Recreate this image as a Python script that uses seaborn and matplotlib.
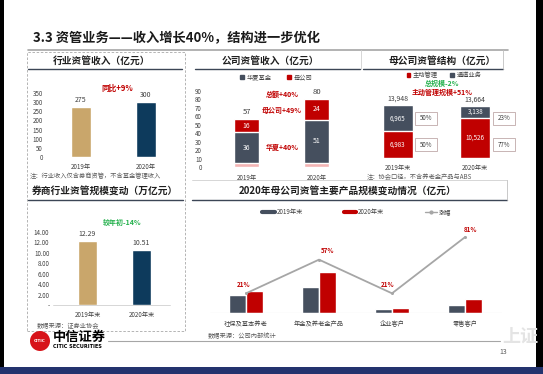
import numpy as np
import pandas as pd
import matplotlib
matplotlib.use('Agg')
import matplotlib.pyplot as plt
from matplotlib.lines import Line2D
from matplotlib.patches import Rectangle, Patch, Ellipse
from matplotlib.ticker import FuncFormatter
import seaborn as sns

# ---- data ----
years = ['2019年', '2020年']
industry_income = [275, 300]          # 行业资管收入 (亿元)

huaxia_income = [36, 51]              # 华夏基金
parent_income = [16, 24]              # 母公司
other_income = [5, 5]                 # 底部浅色部分

year_ends = ['2019年末', '2020年末']
active_mgmt = [6983, 10526]           # 主动管理
channel_biz = [6965, 3138]            # 通道业务
active_share = ['50%', '77%']
channel_share = ['50%', '23%']

industry_scale = [12.29, 10.51]       # 券商行业资管规模 (万亿元)

products = ['社保及基本养老', '年金及养老金产品', '企业客户', '零售客户']
prod_2019 = [1900, 2750, 420, 830]
prod_2020 = [2300, 4320, 510, 1500]
growth = [21, 57, 21, 81]

GOLD = '#c9a66b'
NAVY = '#0d3a5c'
SLATE = '#454f5e'
RED = '#c00000'
PINK = '#f3b4b4'
GREEN = '#22b04b'
LINE_GRAY = '#a6a6a6'
TXT = '#404040'
NOTE = '#595959'
TITLE_LINE = '#3c4656'

W, H = 543, 374

sns.set_style('white')
plt.rcParams['font.family'] = ['Noto Sans CJK SC', 'DejaVu Sans']
plt.rcParams['axes.unicode_minus'] = False

fig = plt.figure(figsize=(W / 100, H / 100), dpi=100)
fig.patch.set_facecolor('white')


def add_ax(x0, y0, x1, y1):
    # pixel box (top-left origin) -> figure axes
    return fig.add_axes([x0 / W, 1 - y1 / H, (x1 - x0) / W, (y1 - y0) / H])


def ftext(x, y, s, **kw):
    kw.setdefault('ha', 'center')
    kw.setdefault('va', 'center')
    return fig.text(x / W, 1 - y / H, s, **kw)


def fline(xs, ys, **kw):
    fig.add_artist(Line2D([x / W for x in xs], [1 - y / H for y in ys],
                          transform=fig.transFigure, **kw))


def frect(x0, y0, x1, y1, **kw):
    fig.add_artist(Rectangle((x0 / W, 1 - y1 / H), (x1 - x0) / W, (y1 - y0) / H,
                             transform=fig.transFigure, **kw))


def clean(ax):
    for s in ax.spines.values():
        s.set_visible(False)
    ax.set_xlabel('')
    ax.set_ylabel('')
    ax.set_facecolor('none')
    ax.tick_params(length=0, labelsize=4.5, labelcolor=TXT)


# ---- slide frame ----
frect(0, 0, 4, H, color='black', lw=0)
frect(536, 0, W, H, color='black', lw=0)
frect(0, 367, W, H, color='#23336e', lw=0)

ftext(33, 38, '3.3 资管业务——收入增长40%，结构进一步优化', ha='left',
      size=9.5, weight='bold', color='#1a1a1a')
fline([28, 508], [49.5, 49.5], color='#a6a6a6', lw=1.2)

# left dashed panel
frect(27, 52, 185, 331, fill=False, ls=(0, (3, 2)), ec='#a8a8a8', lw=0.6)

# panel titles
title_kw = dict(size=7, weight='bold', color='#1f1f1f')
ftext(102, 61, '行业资管收入（亿元）', **title_kw)
ftext(270, 61, '公司资管收入（亿元）', **title_kw)
ftext(442, 61, '母公司资管结构（亿元）', **title_kw)
ftext(105, 191, '券商行业资管规模变动（万亿元）', **title_kw)
ftext(348, 191, '2020年母公司资管主要产品规模变动情况（亿元）', **title_kw)

fline([28, 182], [68.5, 68.5], color=TITLE_LINE, lw=1)
fline([195, 360], [68.5, 68.5], color=TITLE_LINE, lw=1)
fline([363, 503], [68.5, 68.5], color=TITLE_LINE, lw=1)
fline([28, 183], [200, 200], color=TITLE_LINE, lw=1)
fline([192, 507], [200, 200], color=TITLE_LINE, lw=1)
fline([361, 361], [50, 68.5], color='#d0d0d0', lw=0.6)
fline([503, 503], [50, 68.5], color='#c0c0c0', lw=0.6)
fline([192, 507], [180, 180], color='#d0d0d0', lw=0.6)
fline([507, 507], [180, 200], color='#c0c0c0', lw=0.6)

# ---- chart 1: 行业资管收入 ----
ax1 = add_ax(48.5, 93, 178.5, 157)
sns.barplot(x=years, y=industry_income, hue=years, palette=[GOLD, NAVY],
            width=0.31, saturation=1, legend=False, ax=ax1)
clean(ax1)
ax1.set_xlim(-0.5, 1.5)
ax1.set_ylim(0, 350)
ax1.set_yticks(range(0, 351, 50))
ax1.tick_params(axis='both', pad=4)
ax1.axhline(0, color='#d9d9d9', lw=0.6)
for i, v in enumerate(industry_income):
    ax1.annotate(str(v), (i, v), xytext=(0, 2), textcoords='offset points',
                 ha='center', va='bottom', size=5, color=TXT)
ftext(117, 88, '同比+9%', size=5.5, weight='bold', color=RED)
ftext(30, 176, '注：行业收入仅含券商资管，不含基金管理收入', ha='left',
      size=4.5, color=NOTE)

# ---- chart 2: 公司资管收入 (stacked) ----
ax2 = add_ax(211.5, 90.7, 351.5, 167.3)
low = np.array(other_income)
mid = low + np.array(huaxia_income)
top = mid + np.array(parent_income)
sns.barplot(x=years, y=top, color=RED, width=0.36, saturation=1, ax=ax2)
sns.barplot(x=years, y=mid, color=SLATE, width=0.36, saturation=1, ax=ax2)
sns.barplot(x=years, y=low, color=PINK, width=0.36, saturation=1, ax=ax2)
clean(ax2)
ax2.set_xlim(-0.5, 1.5)
ax2.set_ylim(0, 90)
ax2.set_yticks(range(0, 91, 10))
ax2.tick_params(axis='y', pad=7)
ax2.tick_params(axis='x', pad=5)
for i in range(len(years)):
    ax2.text(i, (low[i] + mid[i]) / 2, str(huaxia_income[i]), ha='center',
             va='center', size=5, color='white')
    ax2.text(i, (mid[i] + top[i]) / 2, str(parent_income[i]), ha='center',
             va='center', size=5, color='white')
    ax2.annotate(str(top[i]), (i, top[i]), xytext=(0, 2), textcoords='offset points',
                 ha='center', va='bottom', size=5.5, color=TXT)
fig.legend(handles=[Patch(color=SLATE), Patch(color=RED)], labels=['华夏基金', '母公司'],
           loc='center', bbox_to_anchor=(276 / W, 1 - 77 / H), ncol=2, frameon=False,
           fontsize=4.5, handlelength=0.6, handleheight=0.6, handletextpad=0.4,
           columnspacing=2.5, labelcolor=TXT)
ann_kw = dict(size=5, weight='bold', color=RED)
ftext(282, 94, '总额+40%', **ann_kw)
ftext(282, 111, '母公司+49%', **ann_kw)
ftext(282, 147, '华夏+40%', **ann_kw)

# ---- chart 3: 母公司资管结构 ----
ax3 = add_ax(359, 105, 514, 158)
act = np.array(active_mgmt)
tot = act + np.array(channel_biz)
sns.barplot(x=year_ends, y=tot, color=SLATE, width=0.39, saturation=1, ax=ax3)
sns.barplot(x=year_ends, y=act, color=RED, width=0.39, saturation=1, ax=ax3)
clean(ax3)
ax3.set_xlim(-0.5, 1.5)
ax3.set_ylim(0, tot[0])
ax3.set_yticks([])
ax3.tick_params(axis='x', pad=4)
box_h = 13 / 53 * tot[0]
box_y = [(act[0] + tot[0]) / 2, act[0] / 2]
for i in range(len(year_ends)):
    ax3.text(i, (act[i] + tot[i]) / 2, f'{channel_biz[i]:,}', ha='center', va='center',
             size=4.5, color='white')
    ax3.text(i, act[i] / 2, f'{active_mgmt[i]:,}', ha='center', va='center',
             size=4.5, color='white')
    ax3.annotate(f'{tot[i]:,}', (i, tot[i]), xytext=(0, 1.5), textcoords='offset points',
                 ha='center', va='bottom', size=5, color=TXT)
    for yb, lab in zip(box_y, [channel_share[i], active_share[i]]):
        ax3.add_patch(Rectangle((i + 0.37 - 0.142, yb - box_h / 2), 0.284, box_h,
                                fill=False, ec='#bfa8a8', lw=0.6, clip_on=False))
        ax3.text(i + 0.37, yb, lab, ha='center', va='center', size=4.5, color=TXT)
fig.legend(handles=[Patch(color=RED), Patch(color=SLATE)], labels=['主动管理', '通道业务'],
           loc='center', bbox_to_anchor=(444 / W, 1 - 75 / H), ncol=2, frameon=False,
           fontsize=4.5, handlelength=0.6, handleheight=0.6, handletextpad=0.4,
           columnspacing=2.0, labelcolor=TXT)
ftext(442, 83, '总规模-2%', size=5, weight='bold', color=GREEN)
ftext(442, 92, '主动管理规模+51%', size=5, weight='bold', color=RED)
ftext(367, 177, '注：协会口径，不含养老金产品与ABS', ha='left', size=4.5, color=NOTE)

# ---- chart 4: 券商行业资管规模 ----
ax4 = add_ax(60.5, 232, 168.5, 305)
sns.barplot(x=year_ends, y=industry_scale, hue=year_ends, palette=[GOLD, NAVY],
            width=0.35, saturation=1, legend=False, ax=ax4)
clean(ax4)
ax4.set_xlim(-0.5, 1.5)
ax4.set_ylim(0, 14)
ax4.set_yticks(range(0, 15, 2))
ax4.yaxis.set_major_formatter(FuncFormatter(lambda v, p: '-' if v == 0 else f'{v:.2f}'))
ax4.tick_params(axis='y', pad=8)
ax4.tick_params(axis='x', pad=4)
fline([53, 170], [305, 305], color='#d0d0d0', lw=0.6)
for i, v in enumerate(industry_scale):
    ax4.annotate(f'{v:.2f}', (i, v), xytext=(0, 2), textcoords='offset points',
                 ha='center', va='bottom', size=5, color=TXT)
ftext(122, 222, '较年初-14%', size=5, weight='bold', color=GREEN)
ftext(37, 326, '数据来源：证券业协会', ha='left', size=4.5, color=NOTE)

# ---- chart 5: 母公司主要产品规模 ----
ax5 = add_ax(209.5, 225, 501.5, 313)
df = pd.DataFrame({'product': products * 2,
                   'year': [year_ends[0]] * len(products) + [year_ends[1]] * len(products),
                   'value': prod_2019 + prod_2020})
sns.barplot(data=df, x='product', y='value', hue='year', palette=[SLATE, RED],
            width=0.47, saturation=1, legend=False, ax=ax5)
clean(ax5)
ax5.set_ylim(0, 9300)
ax5.set_yticks([])
ax5.tick_params(axis='x', pad=5)
ax5.axhline(0, color='#d9d9d9', lw=0.8)
ax5b = ax5.twinx()
sns.lineplot(x=np.arange(len(products)), y=growth, color=LINE_GRAY, lw=1.3,
             marker='o', markersize=2.2, markeredgewidth=0, ax=ax5b)
clean(ax5b)
ax5b.set_ylim(0, 94)
ax5b.set_yticks([])
ax5.set_xlim(-0.5, 3.5)
ax5b.set_xlim(-0.5, 3.5)
label_offsets = [(-2, 4), (6, 4), (-3, 4), (4, 3)]
for i, g in enumerate(growth):
    ax5b.annotate(f'{g}%', (i, g), xytext=label_offsets[i], textcoords='offset points',
                  ha='center', va='bottom', size=4.5, weight='bold', color=RED)
fig.legend(handles=[Line2D([], [], color=SLATE, lw=3), Line2D([], [], color=RED, lw=3),
                    Line2D([], [], color=LINE_GRAY, lw=1, marker='o', ms=2)],
           labels=['2019年末', '2020年末', '涨幅'], loc='center',
           bbox_to_anchor=(357 / W, 1 - 212 / H), ncol=3, frameon=False, fontsize=4.5,
           handlelength=2.0, handletextpad=0.3, columnspacing=6.5, labelcolor=TXT)
ftext(208, 336, '数据来源：公司内部统计', ha='left', size=4.5, color=NOTE)

# ---- footer / logo ----
fig.add_artist(Ellipse((40 / W, 1 - 341 / H), 20 / W, 20 / H, transform=fig.transFigure,
                       color='#d7141a', lw=0))
ftext(40, 341, 'CITIC', size=3, weight='bold', color='white', family='DejaVu Sans')
ftext(53, 336.5, '中信证券', ha='left', size=9.5, weight='bold', color='black')
ftext(53, 346.5, 'CITIC SECURITIES', ha='left', size=3.6, weight='bold',
      color='black', family='DejaVu Sans')
fline([108, 500], [341, 341], color='#a6a6a6', lw=0.8)
ftext(520, 336, '上证', size=13, weight='bold', color='#e4e4e4')
ftext(503, 352, '13', size=5, color=NOTE)

fig.savefig('out.png', dpi=100)
